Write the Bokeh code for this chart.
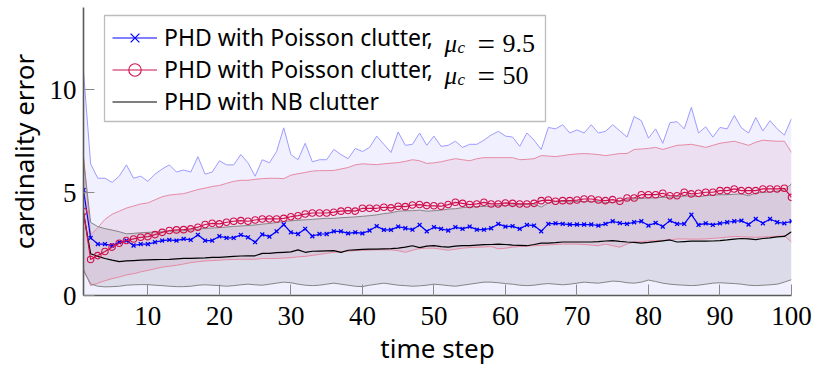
from bokeh.plotting import figure
from bokeh.models import Range1d, FixedTicker, Legend, LegendItem, Label, BoxAnnotation
from bokeh.embed import file_html
from bokeh.resources import INLINE

# ---------------- data ----------------
steps = list(range(1, 101))

blue_mean = [5.13, 2.80, 2.50, 2.50, 2.43, 2.59, 2.67, 2.43, 2.50, 2.50,
             2.59, 2.67, 2.70, 2.67, 2.75, 2.70, 2.95, 2.67, 2.67, 2.88,
             2.80, 2.80, 2.95, 2.83, 2.59, 2.97, 2.86, 3.12, 3.45, 3.07,
             2.99, 3.24, 2.88, 2.99, 2.99, 3.12, 3.12, 3.02, 3.07, 3.02,
             3.16, 3.37, 3.19, 3.19, 3.35, 3.27, 3.20, 3.43, 3.12, 3.32,
             3.24, 3.16, 3.32, 3.24, 3.35, 3.20, 3.20, 3.27, 3.48, 3.35,
             3.37, 3.24, 3.43, 3.40, 3.12, 3.48, 3.51, 3.48, 3.45, 3.45,
             3.45, 3.45, 3.40, 3.48, 3.61, 3.52, 3.48, 3.56, 3.61, 3.40,
             3.53, 3.35, 3.64, 3.48, 3.48, 3.93, 3.43, 3.51, 3.43, 3.51,
             3.56, 3.61, 3.64, 3.45, 3.72, 3.51, 3.72, 3.56, 3.51, 3.61]

blue_upper = [10.9, 6.40, 5.70, 5.70, 5.50, 5.80, 6.35, 5.70, 5.80, 5.55,
              5.90, 6.15, 6.35, 6.00, 6.10, 6.00, 6.75, 5.90, 6.00, 6.55,
              6.35, 6.35, 6.85, 6.45, 5.80, 6.60, 6.45, 7.00, 8.15, 6.85,
              6.60, 7.40, 6.50, 6.60, 6.60, 7.10, 6.85, 6.65, 7.15, 7.00,
              7.20, 7.75, 7.35, 6.95, 7.95, 7.30, 7.35, 7.90, 7.30, 7.75,
              7.25, 7.30, 7.50, 7.20, 7.35, 7.35, 7.55, 7.80, 7.98, 7.75,
              7.70, 7.25, 7.90, 7.55, 7.10, 8.17, 8.10, 8.30, 7.90, 8.05,
              7.90, 8.30, 7.90, 7.98, 8.30, 8.00, 7.70, 8.70, 8.50, 7.65,
              8.10, 7.40, 8.40, 8.45, 8.10, 9.15, 7.90, 8.20, 7.70, 8.17,
              8.10, 8.75, 8.15, 7.90, 8.65, 8.00, 8.50, 8.10, 7.80, 8.60]

red_mean = [4.08, 1.75, 1.94, 2.14, 2.35, 2.54, 2.67, 2.75, 2.83, 2.86,
            2.96, 3.07, 3.16, 3.19, 3.20, 3.24, 3.32, 3.45, 3.51, 3.48,
            3.56, 3.61, 3.64, 3.61, 3.67, 3.72, 3.72, 3.72, 3.75, 3.83,
            3.88, 3.96, 4.01, 4.01, 4.01, 4.05, 4.10, 4.13, 4.10, 4.24,
            4.24, 4.24, 4.29, 4.26, 4.34, 4.32, 4.40, 4.42, 4.37, 4.36,
            4.34, 4.42, 4.53, 4.48, 4.42, 4.45, 4.53, 4.45, 4.45, 4.50,
            4.48, 4.45, 4.45, 4.48, 4.61, 4.64, 4.58, 4.61, 4.61, 4.64,
            4.69, 4.69, 4.64, 4.61, 4.66, 4.58, 4.74, 4.74, 4.90, 4.90,
            4.90, 4.97, 4.85, 4.85, 5.02, 4.94, 4.97, 5.02, 5.02, 5.10,
            5.10, 5.18, 5.10, 5.10, 5.10, 5.18, 5.18, 5.18, 5.21, 4.77]

red_upper = [6.80, 2.95, 3.30, 3.70, 3.95, 4.10, 4.25, 4.35, 4.45, 4.50,
             4.65, 4.80, 4.88, 4.92, 4.95, 5.05, 5.15, 5.22, 5.30, 5.35,
             5.45, 5.55, 5.60, 5.60, 5.65, 5.68, 5.70, 5.70, 5.68, 5.85,
             5.92, 5.98, 6.05, 6.07, 6.07, 6.08, 6.15, 6.22, 6.35, 6.40,
             6.38, 6.36, 6.40, 6.43, 6.46, 6.52, 6.60, 6.55, 6.42, 6.45,
             6.50, 6.58, 6.65, 6.60, 6.55, 6.65, 6.70, 6.70, 6.70, 6.70,
             6.70, 6.60, 6.62, 6.65, 6.80, 6.78, 6.75, 6.80, 6.85, 6.88,
             6.90, 6.88, 6.85, 6.80, 6.85, 6.90, 6.90, 7.10, 7.12, 7.15,
             7.20, 7.10, 7.20, 7.30, 7.32, 7.35, 7.28, 7.20, 7.30, 7.40,
             7.45, 7.50, 7.40, 7.30, 7.45, 7.55, 7.52, 7.50, 7.50, 6.95]

red_lower = [1.30, 0.48, 0.60, 0.72, 0.82, 0.90, 1.00, 1.06, 1.15, 1.22,
             1.30, 1.38, 1.42, 1.47, 1.53, 1.60, 1.64, 1.68, 1.70, 1.72,
             1.74, 1.75, 1.76, 1.76, 1.76, 1.80, 1.80, 1.80, 1.82, 1.84,
             1.88, 1.90, 1.95, 2.00, 2.05, 2.10, 2.12, 2.15, 2.18, 2.20,
             2.20, 2.22, 2.22, 2.22, 2.18, 2.10, 2.20, 2.28, 2.30, 2.30,
             2.25, 2.20, 2.25, 2.30, 2.33, 2.35, 2.36, 2.38, 2.27, 2.30,
             2.35, 2.38, 2.40, 2.42, 2.44, 2.46, 2.48, 2.50, 2.50, 2.50,
             2.48, 2.45, 2.42, 2.50, 2.42, 2.35, 2.50, 2.60, 2.62, 2.65,
             2.66, 2.68, 2.70, 2.75, 2.75, 2.74, 2.74, 2.75, 2.78, 2.80,
             2.84, 2.87, 2.86, 2.84, 2.83, 2.84, 2.86, 2.88, 2.90, 2.60]

nb_mean = [4.00, 2.03, 1.90, 1.80, 1.72, 1.65, 1.68, 1.70, 1.72, 1.73,
           1.74, 1.75, 1.76, 1.78, 1.80, 1.80, 1.82, 1.83, 1.85, 1.85,
           1.88, 1.90, 1.92, 1.93, 1.93, 2.05, 2.05, 2.08, 2.10, 2.12,
           2.22, 2.10, 2.15, 2.16, 2.17, 2.18, 2.10, 2.20, 2.22, 2.24,
           2.25, 2.25, 2.27, 2.28, 2.30, 2.35, 2.42, 2.33, 2.40, 2.42,
           2.38, 2.35, 2.40, 2.42, 2.42, 2.45, 2.47, 2.48, 2.50, 2.48,
           2.45, 2.44, 2.42, 2.48, 2.55, 2.55, 2.57, 2.60, 2.60, 2.60,
           2.60, 2.60, 2.62, 2.65, 2.67, 2.63, 2.60, 2.58, 2.55, 2.58,
           2.62, 2.66, 2.70, 2.60, 2.62, 2.64, 2.64, 2.64, 2.65, 2.67,
           2.70, 2.74, 2.77, 2.75, 2.72, 2.77, 2.80, 2.85, 2.87, 3.10]

nb_upper = [6.60, 3.55, 3.35, 3.25, 3.18, 3.10, 3.00, 3.02, 3.05, 3.07,
            3.08, 3.10, 3.12, 3.14, 3.15, 3.18, 3.22, 3.26, 3.28, 3.30,
            3.33, 3.36, 3.38, 3.40, 3.43, 3.47, 3.50, 3.55, 3.60, 3.63,
            3.66, 3.68, 3.70, 3.73, 3.75, 3.75, 3.78, 3.80, 3.82, 3.85,
            3.88, 3.92, 3.98, 4.02, 4.10, 4.12, 4.12, 4.15, 4.10, 4.12,
            4.15, 4.20, 4.22, 4.27, 4.30, 4.32, 4.33, 4.35, 4.37, 4.38,
            4.40, 4.42, 4.44, 4.45, 4.30, 4.50, 4.57, 4.57, 4.55, 4.57,
            4.57, 4.58, 4.55, 4.52, 4.53, 4.60, 4.65, 4.70, 4.72, 4.74,
            4.75, 4.77, 4.78, 4.80, 4.83, 4.85, 4.80, 4.85, 4.88, 4.90,
            4.90, 4.92, 4.94, 4.85, 4.98, 5.01, 5.03, 5.08, 5.13, 5.43]

nb_lower = [1.20, 0.57, 0.45, 0.42, 0.43, 0.45, 0.50, 0.52, 0.53, 0.53,
            0.50, 0.48, 0.45, 0.43, 0.43, 0.45, 0.50, 0.52, 0.50, 0.48,
            0.45, 0.48, 0.52, 0.55, 0.52, 0.50, 0.55, 0.60, 0.65, 0.62,
            0.55, 0.50, 0.48, 0.50, 0.55, 0.60, 0.55, 0.50, 0.45, 0.43,
            0.50, 0.55, 0.60, 0.55, 0.50, 0.48, 0.45, 0.47, 0.50, 0.55,
            0.52, 0.48, 0.45, 0.50, 0.55, 0.60, 0.65, 0.65, 0.62, 0.58,
            0.55, 0.50, 0.48, 0.50, 0.55, 0.58, 0.55, 0.52, 0.55, 0.60,
            0.65, 0.62, 0.60, 0.65, 0.70, 0.68, 0.62, 0.60, 0.65, 0.75,
            0.68, 0.60, 0.55, 0.52, 0.50, 0.48, 0.50, 0.55, 0.60, 0.62,
            0.60, 0.58, 0.55, 0.50, 0.48, 0.50, 0.52, 0.55, 0.65, 0.77]

x_ticks = [10, 20, 30, 40, 50, 60, 70, 80, 90, 100]
y_ticks = [0, 5, 10]
x_title = "time step"
y_title = "cardinality error"
legend_labels = ["PHD with Poisson clutter,", "PHD with Poisson clutter,", "PHD with NB clutter"]
mu_values = ["9.5", "50"]

# ---------------- styling ----------------
BLUE = "#0000ff"
BLUE_EDGE = "#9c9cff"
RED = "#d0104c"
RED_EDGE = "#e68aa3"
GREY_EDGE = "#858585"
SANS = "Noto Sans"
SERIF = "Liberation Serif"

W, H = 814, 369
FL, FR, FT, FB = 83, 23, 7, 74
FW, FH = W - FL - FR, H - FT - FB
X0, X1, Y0, Y1 = 1, 100, 0, 14

p = figure(width=W, height=H, output_backend="svg", toolbar_location=None,
           x_range=Range1d(X0, X1), y_range=Range1d(Y0, Y1),
           min_border_left=FL, min_border_right=FR, min_border_top=FT, min_border_bottom=FB)
p.outline_line_color = None
p.xgrid.visible = False
p.ygrid.visible = False
p.background_fill_color = "white"


def fx(px):
    """frame pixel offset from left -> data x"""
    return X0 + px * (X1 - X0) / FW


def fy(py):
    """frame pixel offset from top -> data y"""
    return Y1 - py * (Y1 - Y0) / FH


# bands
p.varea(x=steps, y1=0, y2=blue_upper, fill_color=BLUE, fill_alpha=0.06)
p.varea(x=steps, y1=red_lower, y2=red_upper, fill_color=RED, fill_alpha=0.075)
p.varea(x=steps, y1=nb_lower, y2=nb_upper, fill_color="black", fill_alpha=0.085)

p.line(steps, blue_upper, line_color=BLUE_EDGE, line_width=1)
p.line(steps, red_upper, line_color=RED_EDGE, line_width=1)
p.line(steps, red_lower, line_color=RED_EDGE, line_width=1)
p.line(steps, nb_upper, line_color=GREY_EDGE, line_width=1)
p.line(steps, nb_lower, line_color=GREY_EDGE, line_width=1)

# means
k_line = p.line(steps, nb_mean, line_color="black", line_width=1.2)
b_line = p.line(steps, blue_mean, line_color=BLUE, line_width=1.2)
b_mark = p.scatter(steps, blue_mean, marker="x", size=5.5, line_color=BLUE, line_width=1.3)
r_line = p.line(steps, red_mean, line_color=RED, line_width=1.2)
r_mark = p.scatter(steps, red_mean, marker="circle", size=6.5, line_color=RED,
                   fill_color=None, line_width=1.1)

# axes
for ax in (p.xaxis[0], p.yaxis[0]):
    ax.axis_line_color = "#5a5a5a"
    ax.axis_line_width = 1.6
    ax.major_tick_in = 11
    ax.major_tick_out = 0
    ax.major_tick_line_color = "#8a8a8a"
    ax.major_tick_line_width = 1
    ax.minor_tick_line_color = None
    ax.major_label_text_font = SERIF
    ax.major_label_text_font_size = "27px"
    ax.major_label_text_color = "black"
    ax.axis_label_text_font = SANS
    ax.axis_label_text_font_size = "26px"
    ax.axis_label_text_font_style = "normal"
    ax.axis_label_text_color = "black"

p.xaxis.ticker = FixedTicker(ticks=x_ticks)
p.yaxis.ticker = FixedTicker(ticks=y_ticks)
p.xaxis.axis_label = x_title
p.yaxis.axis_label = y_title
p.xaxis.major_label_standoff = 11
p.yaxis.major_label_standoff = 7
p.xaxis.axis_label_standoff = 2
p.yaxis.axis_label_standoff = 5

# legend frame (opaque box under the legend entries)
p.add_layout(BoxAnnotation(left=fx(21), right=fx(462), top=fy(8), bottom=fy(114),
                           fill_color="white", fill_alpha=1,
                           line_color="#222222", line_width=1.3, level="guide"))

legend = Legend(items=[
    LegendItem(label=legend_labels[0], renderers=[b_line, b_mark]),
    LegendItem(label=legend_labels[1], renderers=[r_line, r_mark]),
    LegendItem(label=legend_labels[2], renderers=[k_line]),
], location=(29, FH - 110), orientation="vertical")
legend.glyph_width = 45
legend.glyph_height = 31
legend.label_height = 31
legend.label_width = 365
legend.label_standoff = 7
legend.padding = 8
legend.spacing = -3
legend.margin = 0
legend.label_text_font = SANS
legend.label_text_font_size = "23px"
legend.label_text_color = "black"
legend.border_line_color = None
legend.background_fill_alpha = 0
p.add_layout(legend, "center")

# math part of the first two legend entries (mu_c = value)
row_base = [36, 68]
for i, val in enumerate(mu_values):
    base = row_base[i]
    p.add_layout(Label(x=fx(361), y=fy(base), text="μ", text_font=SERIF,
                       text_font_style="italic", text_font_size="25px", level="overlay",
                       text_baseline="alphabetic", text_color="black"))
    p.add_layout(Label(x=fx(374), y=fy(base + 4), text="c", text_font=SERIF,
                       text_font_style="italic", text_font_size="17px", level="overlay",
                       text_baseline="alphabetic", text_color="black"))
    p.add_layout(Label(x=fx(394), y=fy(base + 1), text="=", text_font=SERIF,
                       text_font_size="31px", text_baseline="alphabetic", level="overlay",
                       text_color="black"))
    p.add_layout(Label(x=fx(419), y=fy(base), text=val, text_font=SERIF,
                       text_font_size="26px", text_baseline="alphabetic", level="overlay",
                       text_color="black"))

open("out.html", "w").write(file_html(p, INLINE))
